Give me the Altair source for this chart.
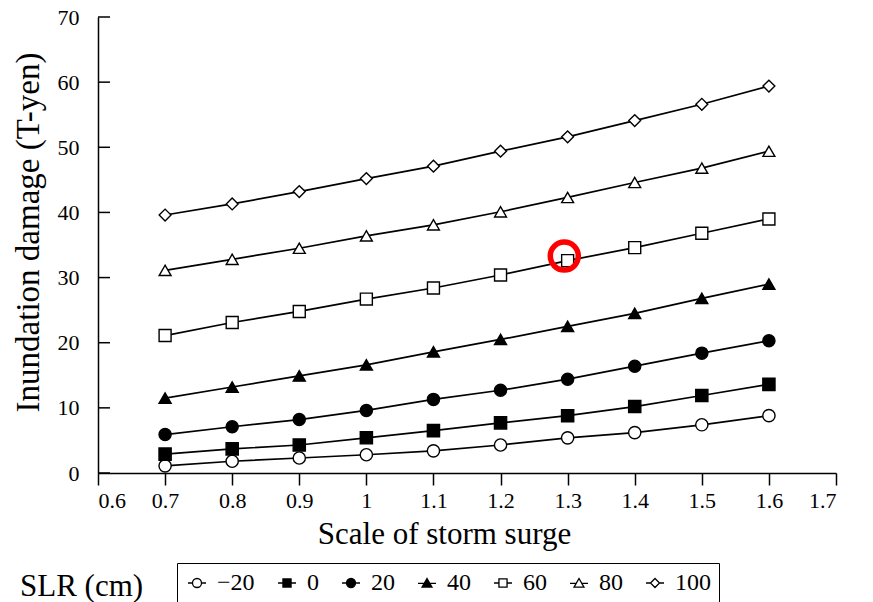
import altair as alt
import pandas as pd

scale_x = [0.7, 0.8, 0.9, 1.0, 1.1, 1.2, 1.3, 1.4, 1.5, 1.6]
slr_labels = ["\u221220", "0", "20", "40", "60", "80", "100"]

dmg_m20 = [1.1, 1.8, 2.3, 2.8, 3.4, 4.3, 5.4, 6.2, 7.4, 8.8]
dmg_0 = [2.9, 3.7, 4.3, 5.4, 6.5, 7.7, 8.8, 10.2, 11.9, 13.6]
dmg_20 = [5.9, 7.1, 8.2, 9.6, 11.3, 12.7, 14.4, 16.4, 18.4, 20.3]
dmg_40 = [11.5, 13.2, 14.9, 16.6, 18.6, 20.5, 22.5, 24.5, 26.8, 29.0]
dmg_60 = [21.1, 23.1, 24.8, 26.7, 28.4, 30.4, 32.6, 34.6, 36.8, 39.0]
dmg_80 = [31.1, 32.8, 34.5, 36.4, 38.1, 40.1, 42.3, 44.6, 46.8, 49.4]
dmg_100 = [39.6, 41.3, 43.2, 45.2, 47.1, 49.4, 51.6, 54.1, 56.6, 59.4]

ann_x = [1.295]
ann_y = [33.3]

x_ticks = [0.6, 0.7, 0.8, 0.9, 1.0, 1.1, 1.2, 1.3, 1.4, 1.5, 1.6, 1.7]
y_ticks = [0, 10, 20, 30, 40, 50, 60, 70]

series = [dmg_m20, dmg_0, dmg_20, dmg_40, dmg_60, dmg_80, dmg_100]
rows = []
for lab, vals in zip(slr_labels, series):
    for xv, v in zip(scale_x, vals):
        rows.append({"scale": xv, "dmg": v, "slr": lab})
df = pd.DataFrame(rows)

FONT = "Liberation Serif"

xs = alt.Scale(domain=[0.6, 1.7], nice=False, zero=False)
ys = alt.Scale(domain=[0, 70], nice=False)

x_axis = alt.Axis(values=x_ticks, format="~g", title="Scale of storm surge",
                  tickSize=12, labelPadding=5, titlePadding=8, titleX=346,
                  labelFont=FONT, labelFontSize=22, titleFont=FONT, titleFontSize=31)
y_axis = alt.Axis(values=y_ticks, title="Inundation damage (T-yen)",
                  ticks=False, tickSize=0, labelPadding=19, titlePadding=12,
                  titleY=215, labelFont=FONT, labelFontSize=22,
                  titleFont=FONT, titleFontSize=33)

X = alt.X("scale:Q", scale=xs, axis=x_axis)
Y = alt.Y("dmg:Q", scale=ys, axis=y_axis)

shape_range = ["circle", "square", "circle", "triangle-up", "square", "triangle-up", "diamond"]
fill_range = ["white", "black", "black", "black", "white", "white", "white"]
size_range = [150, 140, 150, 150, 140, 150, 115]

leg_paths = [
    "M-1,0L-0.5,0M0.5,0L1,0M0.5,0A0.5,0.5,0,1,1,-0.5,0A0.5,0.5,0,1,1,0.5,0Z",
    "M-1,0L-0.45,0M0.45,0L1,0M-0.45,-0.45L0.45,-0.45L0.45,0.45L-0.45,0.45Z",
    "M-1,0L-0.5,0M0.5,0L1,0M0.5,0A0.5,0.5,0,1,1,-0.5,0A0.5,0.5,0,1,1,0.5,0Z",
    "M-1,0.05L-0.3,0.05M0.3,0.05L1,0.05M0,-0.5L0.55,0.45L-0.55,0.45Z",
    "M-1,0L-0.45,0M0.45,0L1,0M-0.45,-0.45L0.45,-0.45L0.45,0.45L-0.45,0.45Z",
    "M-1,0.05L-0.3,0.05M0.3,0.05L1,0.05M0,-0.5L0.55,0.45L-0.55,0.45Z",
    "M-1,0L-0.5,0M0.5,0L1,0M-0.5,0L0,-0.5L0.5,0L0,0.5Z",
]

base = alt.Chart(df)

lines = base.mark_line(color="black", strokeWidth=1.7).encode(
    x=X, y=Y, detail="slr:N")

points = base.mark_point(filled=True, stroke="black", strokeWidth=1.4, opacity=1).encode(
    x=X, y=Y,
    shape=alt.Shape("slr:N", scale=alt.Scale(domain=slr_labels, range=shape_range), legend=None),
    fill=alt.Fill("slr:N", scale=alt.Scale(domain=slr_labels, range=fill_range), legend=None),
    size=alt.Size("slr:N", scale=alt.Scale(domain=slr_labels, range=size_range), legend=None),
)

leg = alt.Legend(title=None, orient="none", legendX=79, legendY=546,
                 direction="horizontal", columns=7,
                 labelFont=FONT, labelFontSize=24, labelColor="black",
                 labelOffset=8, columnPadding=20, padding=8,
                 strokeColor="black", symbolStrokeColor="black",
                 symbolStrokeWidth=1.3, symbolOpacity=1, symbolSize=324)

legend_layer = base.mark_point(filled=True, strokeWidth=1.3,
                               size=324, clip=True, opacity=1).encode(
    x=alt.datum(0.0), y=Y,
    shape=alt.Shape("slr:N", scale=alt.Scale(domain=slr_labels, range=leg_paths), legend=leg),
    fill=alt.Fill("slr:N", scale=alt.Scale(domain=slr_labels, range=fill_range), legend=leg),
    stroke=alt.Stroke("slr:N", scale=alt.Scale(domain=slr_labels, range=["black"] * 7), legend=leg),
)

yticks_layer = alt.Chart(pd.DataFrame({"dmg": y_ticks})).mark_rule(
    color="black", strokeWidth=1.5).encode(
    y=Y, x=alt.value(0), x2=alt.value(12))

ann = alt.Chart(pd.DataFrame({"scale": ann_x, "dmg": ann_y})).mark_point(
    shape="circle", size=784, filled=False, color="#ff0000", strokeWidth=5.5, opacity=1
).encode(x=X, y=Y)

chart = alt.layer(legend_layer, lines, points, yticks_layer, ann).resolve_scale(
    shape="independent", fill="independent", size="independent", stroke="independent"
).properties(
    width=738, height=456,
    autosize=alt.AutoSizeParams(type="none"),
    padding={"left": 98, "top": 17, "right": 37, "bottom": 129},
    title=alt.TitleParams("SLR (cm)", orient="bottom", anchor="start", frame="group",
                          dx=-78, dy=-36,
                          font=FONT, fontSize=31, fontWeight="normal", color="black"),
).configure(font=FONT).configure_view(stroke=None).configure_axis(
    domainColor="black", domainWidth=1.5, tickColor="black", tickWidth=1.5,
    labelColor="black", titleColor="black", grid=False,
    labelFont=FONT, titleFont=FONT, titleFontWeight="normal",
).configure_legend(labelFont=FONT).configure_title(font=FONT)

chart.save("out.html", embed_options={"renderer": "svg", "actions": False})
